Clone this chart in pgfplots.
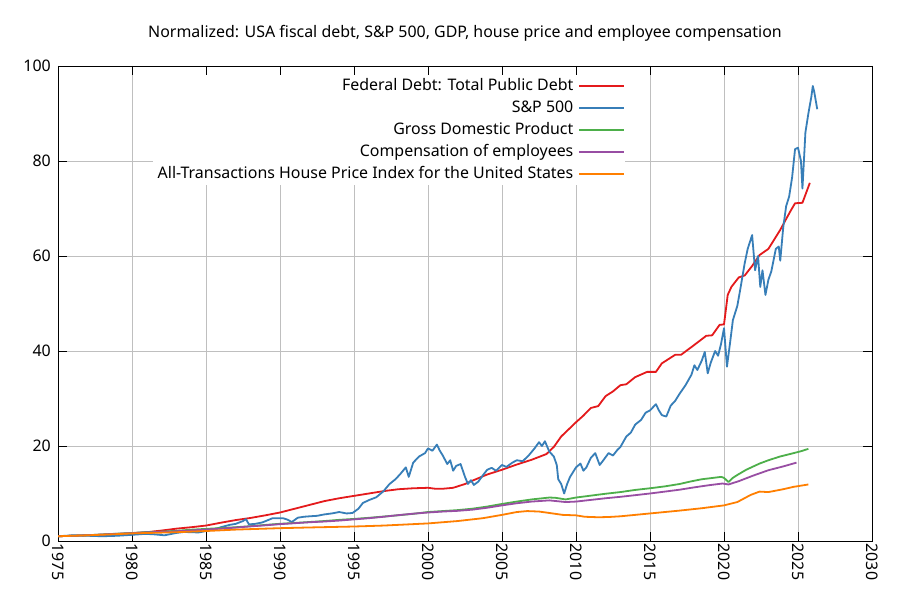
\documentclass[border=0pt]{standalone}
\usepackage{fontspec}
\setmainfont{Noto Sans}
\usepackage{pgfplots}
\pgfplotsset{compat=1.18}
\definecolor{cred}{HTML}{E41A1C}
\definecolor{cblue}{HTML}{377EB8}
\definecolor{cgreen}{HTML}{4DAF4A}
\definecolor{cpurple}{HTML}{984EA3}
\definecolor{corange}{HTML}{FF7F00}
\newcommand{\lblfont}{\fontsize{16}{18}\selectfont}
\begin{document}
\begin{tikzpicture}
\fill[white] (0,0) rectangle (900bp,600bp);
\node[font=\lblfont] at (465bp,567bp) {Normalized: USA fiscal debt, S\&P 500, GDP, house price and employee compensation};
\begin{axis}[
  at={(58bp,59bp)}, anchor=south west,
  scale only axis, width=814bp, height=475bp,
  xmin=1975, xmax=2030, ymin=0, ymax=100,
  xtick={1975,1980,...,2030}, ytick={0,20,...,100},
  grid=major, grid style={color=black!25, line width=0.7bp},
  axis line style={line width=0.9bp},
  tick style={black, line width=0.9bp},
  major tick length=9bp, tick align=inside,
  /pgf/number format/assume math mode=true,
  x tick label style={/pgf/number format/1000 sep={}, rotate=-90, anchor=west, font=\lblfont, inner xsep=2.5bp},
  y tick label style={font=\lblfont, inner xsep=2bp, xshift=-5bp},
  legend plot pos=right,
  legend cell align=right,
  legend image code/.code={\draw[#1] (0bp,0bp) -- (45bp,0bp);},
  legend style={at={(0.697,0.981)}, anchor=north east, draw=none, fill=white,
    font=\lblfont, inner sep=0pt, row sep=0pt,
    nodes={text height=12bp, text depth=4bp, inner ysep=3bp, inner xsep=5bp}},
  every axis plot/.append style={line width=1.8bp, line join=round},
]
\addplot[cred] coordinates {
(1975,1.0)(1977,1.2)(1979,1.45)(1980,1.65)(1981,1.85)(1982,2.2)(1983,2.6)(1984,2.9)
(1985,3.25)(1986,3.85)(1987,4.4)(1988,4.85)(1989,5.4)(1990,6.0)(1991,6.8)(1992,7.6)
(1993,8.4)(1994,9.0)(1995,9.5)(1996,10.0)(1997,10.5)(1998,10.9)(1999,11.1)(2000,11.2)
(2000.5,11.0)(2001,11.0)(2001.7,11.2)(2002.5,12.0)(2003,12.7)(2004,14.0)(2005,15.0)
(2006,16.1)(2007,17.1)(2008,18.3)(2008.5,19.8)(2009,22.0)(2009.5,23.5)(2010,25.0)
(2010.5,26.4)(2011,28.0)(2011.5,28.4)(2012,30.5)(2012.5,31.5)(2013,32.8)(2013.4,33.0)
(2014,34.5)(2014.8,35.6)(2015.4,35.6)(2015.8,37.4)(2016.7,39.2)(2017.1,39.2)(2018.0,41.3)
(2018.8,43.2)(2019.2,43.3)(2019.7,45.5)(2020.0,45.6)(2020.25,51.8)(2020.5,53.5)(2021,55.5)
(2021.4,55.9)(2021.9,57.9)(2022.4,60.2)(2023.0,61.5)(2023.4,63.5)(2023.8,65.5)(2024.2,67.8)
(2024.5,69.5)(2024.8,71.1)(2025.3,71.2)(2025.8,75.4)
};
\addlegendentry{Federal Debt: Total Public Debt}
\addplot[cblue] coordinates {
(1975.0,1.0)(1976.0,1.2)(1977.0,1.1)(1978.0,1.0)(1979.0,1.1)(1980.0,1.3)(1980.9,1.5)
(1981.5,1.4)(1982.2,1.2)(1983.0,1.7)(1983.5,1.9)(1984.5,1.8)(1985.0,2.1)(1985.5,2.4)
(1986.0,2.9)(1986.6,3.4)(1987.0,3.6)(1987.5,4.2)(1987.7,4.6)(1987.9,3.5)(1988.3,3.6)
(1988.8,3.9)(1989.5,4.8)(1990.2,4.8)(1990.5,4.5)(1990.8,4.0)(1991.2,4.9)(1991.6,5.1)
(1992.0,5.2)(1992.5,5.3)(1993.0,5.6)(1993.5,5.8)(1994.0,6.1)(1994.5,5.8)(1994.9,5.9)
(1995.3,6.8)(1995.6,8.0)(1996.0,8.6)(1996.5,9.2)(1997.0,10.5)(1997.4,12.0)(1997.8,13.0)
(1998.1,14.0)(1998.5,15.5)(1998.7,13.5)(1999.0,16.5)(1999.4,17.8)(1999.8,18.5)(2000.0,19.5)
(2000.3,19.0)(2000.6,20.3)(2000.8,19.0)(2001.0,18.0)(2001.3,16.2)(2001.5,17.0)(2001.7,14.8)
(2001.9,15.8)(2002.2,16.2)(2002.5,13.5)(2002.7,12.0)(2002.9,12.8)(2003.1,11.8)(2003.4,12.5)
(2003.7,13.8)(2004.0,15.0)(2004.3,15.4)(2004.6,14.8)(2005.0,16.0)(2005.3,15.6)(2005.7,16.5)
(2006.0,17.0)(2006.4,16.8)(2006.8,18.0)(2007.2,19.5)(2007.5,20.8)(2007.7,20.0)(2007.9,21.0)
(2008.2,18.8)(2008.5,17.8)(2008.7,16.0)(2008.8,13.0)(2009.0,12.0)(2009.2,10.0)(2009.4,12.0)
(2009.6,13.5)(2010.0,15.5)(2010.3,16.3)(2010.5,14.8)(2010.7,15.5)(2011.0,17.5)(2011.3,18.5)
(2011.6,16.0)(2011.8,16.8)(2012.2,18.5)(2012.5,18.0)(2012.8,19.2)(2013.0,19.8)(2013.4,22.0)
(2013.7,22.8)(2014.0,24.5)(2014.4,25.5)(2014.7,27.0)(2015.0,27.5)(2015.4,28.8)(2015.6,27.5)
(2015.8,26.5)(2016.1,26.2)(2016.4,28.5)(2016.7,29.5)(2017.0,31.0)(2017.4,32.8)(2017.8,35.0)
(2018.0,37.0)(2018.2,36.0)(2018.5,38.0)(2018.7,39.8)(2018.9,35.3)(2019.1,37.5)(2019.4,40.0)
(2019.6,39.0)(2019.8,41.5)(2020.0,44.8)(2020.2,36.7)(2020.4,41.5)(2020.6,46.5)(2020.9,49.5)
(2021.1,53.0)(2021.4,58.5)(2021.6,61.5)(2021.9,64.4)(2022.1,57.0)(2022.3,60.0)(2022.45,53.5)
(2022.6,57.0)(2022.8,51.8)(2023.0,55.0)(2023.2,56.8)(2023.5,61.5)(2023.7,62.0)(2023.8,59.0)
(2024.0,66.0)(2024.2,70.5)(2024.4,72.5)(2024.6,76.5)(2024.8,82.5)(2025.0,82.8)(2025.2,80.0)
(2025.3,74.2)(2025.5,86.0)(2025.7,90.0)(2025.9,93.5)(2026.0,95.8)(2026.1,94.5)(2026.3,90.9)
};
\addlegendentry{S\&P 500}
\addplot[cgreen] coordinates {
(1975,1.0)(1976,1.1)(1977,1.22)(1978,1.38)(1979,1.54)(1980,1.68)(1981,1.88)(1982,1.97)
(1983,2.14)(1984,2.38)(1985,2.55)(1986,2.72)(1987,2.9)(1988,3.12)(1989,3.38)(1990,3.62)
(1991,3.8)(1992,4.0)(1993,4.2)(1994,4.45)(1995,4.65)(1996,4.88)(1997,5.15)(1998,5.42)
(1999,5.72)(2000,6.1)(2001,6.3)(2002,6.5)(2003,6.8)(2004,7.25)(2005,7.8)(2006,8.3)
(2007,8.75)(2008.2,9.15)(2008.6,9.1)(2009.3,8.75)(2010,9.15)(2011,9.55)(2012,9.95)
(2013,10.3)(2014,10.75)(2015,11.1)(2016,11.5)(2017,12.0)(2017.7,12.5)(2018.5,13.0)
(2019.3,13.3)(2019.8,13.5)(2020.0,13.3)(2020.3,12.4)(2020.6,13.3)(2020.9,13.9)(2021.5,15.0)
(2022.4,16.3)(2023.0,17.0)(2023.8,17.8)(2024.7,18.5)(2025.2,18.9)(2025.7,19.4)
};
\addlegendentry{Gross Domestic Product}
\addplot[cpurple] coordinates {
(1975,1.0)(1976,1.1)(1977,1.22)(1978,1.36)(1979,1.52)(1980,1.65)(1981,1.82)(1982,1.92)
(1983,2.05)(1984,2.22)(1985,2.4)(1986,2.6)(1987,2.82)(1988,3.08)(1989,3.3)(1990,3.55)
(1991,3.75)(1992,3.95)(1993,4.1)(1994,4.3)(1995,4.55)(1996,4.8)(1997,5.1)(1998,5.45)
(1999,5.75)(2000,6.0)(2001,6.2)(2002,6.35)(2003,6.6)(2004,7.0)(2005,7.5)(2006,7.95)
(2007,8.3)(2008.2,8.55)(2009.3,8.2)(2010,8.3)(2011,8.65)(2012,9.0)(2013,9.3)(2014,9.65)
(2015,10.0)(2016,10.4)(2017,10.8)(2018,11.3)(2019,11.75)(2019.9,12.1)(2020.3,11.9)
(2021,12.6)(2022,13.8)(2023,14.9)(2024,15.7)(2024.9,16.5)
};
\addlegendentry{Compensation of employees}
\addplot[corange] coordinates {
(1975,1.0)(1977,1.2)(1979,1.45)(1980,1.6)(1983,1.85)(1985,2.1)(1987,2.4)(1990,2.7)
(1992,2.85)(1995,3.05)(1997,3.25)(2000,3.7)(2002,4.2)(2003.7,4.8)(2005,5.5)(2006.0,6.1)
(2006.7,6.3)(2007.5,6.2)(2008.2,5.9)(2009.1,5.5)(2010,5.4)(2010.6,5.1)(2011.5,5.0)
(2012.2,5.05)(2013,5.2)(2015,5.8)(2017,6.4)(2018.5,6.9)(2020,7.5)(2020.9,8.2)(2021.8,9.7)
(2022.4,10.4)(2023,10.3)(2024,10.9)(2024.7,11.4)(2025.7,11.9)
};
\addlegendentry{All-Transactions House Price Index for the United States}
\end{axis}
\end{tikzpicture}
\end{document}
